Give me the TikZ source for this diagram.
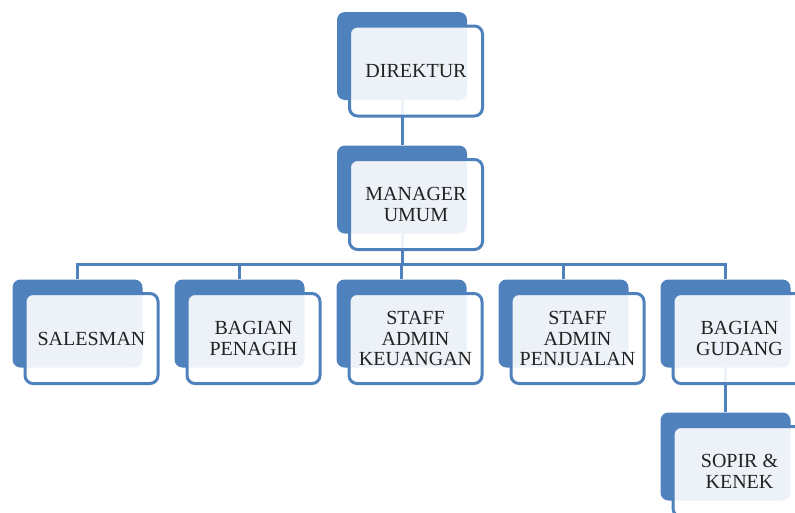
\documentclass[tikz,border=0pt]{standalone}
\usepackage{fontspec}
\setmainfont{Liberation Serif}
\usetikzlibrary{backgrounds}
\definecolor{orgblue}{HTML}{4F81BD}
\definecolor{orgtext}{HTML}{222222}
\tikzset{
  back/.style={fill=orgblue, rounded corners=8pt, minimum width=130pt, minimum height=88pt, inner sep=0pt},
  front/.style={draw=orgblue, line width=3pt, fill=white, fill opacity=0.9, text opacity=1,
    rounded corners=8pt, minimum width=133pt, minimum height=90pt, inner sep=0pt,
    align=center, text=orgtext, font=\fontsize{20}{20.5}\selectfont},
  link/.style={draw=orgblue, line width=3pt}
}
% back box at #2, front box shifted down right
\newcommand{\orgbox}[3]{%
  \node[back] (#1-b) at (#2) {};
  \node[front, xshift=14pt, yshift=-15pt] (#1) at (#2) {#3};}

\begin{document}
\begin{tikzpicture}[x=1pt, y=-1pt]
  \useasboundingbox (0,0) rectangle (795,512);
  \clip (0,0) rectangle (795,512);
  \orgbox{dir}{402,56}{DIREKTUR}
  \orgbox{mgr}{402,189.5}{MANAGER\\UMUM}
  \orgbox{sal}{77.5,323.5}{SALESMAN}
  \orgbox{pen}{239.5,323.5}{BAGIAN\\PENAGIH}
  \orgbox{keu}{401.5,323.5}{STAFF\\ADMIN\\KEUANGAN}
  \orgbox{jual}{563.5,323.5}{STAFF\\ADMIN\\PENJUALAN}
  \orgbox{gud}{725.5,323.5}{BAGIAN\\GUDANG}
  \orgbox{sop}{725.5,456.5}{SOPIR \&\\KENEK}
  \coordinate (bar) at (402,264);
  \begin{pgfonlayer}{background}
    \path[link] (dir-b) -- (mgr-b);
    \path[link] (mgr-b) -- (bar);
    \foreach \n in {sal,pen,keu,jual,gud}
      \path[link] (bar) -| (\n-b.north);
    \path[link] (gud-b) -- (sop-b);
  \end{pgfonlayer}
\end{tikzpicture}
\end{document}
